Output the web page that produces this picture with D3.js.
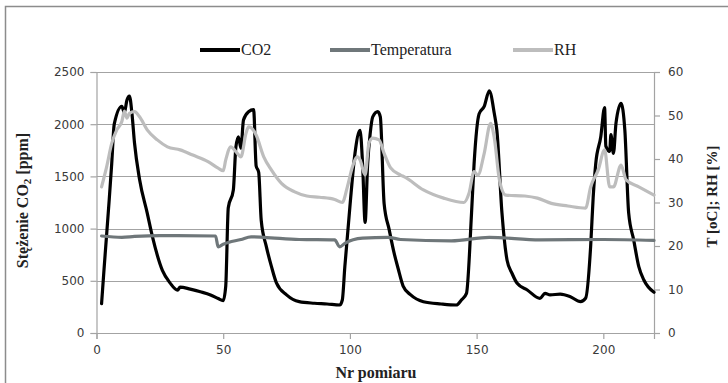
<!DOCTYPE html>
<html><head><meta charset="utf-8">
<script src="https://cdn.jsdelivr.net/npm/d3@7"></script>
<style>body{margin:0;background:#fff}svg{display:block}</style>
</head><body>
<script>
// Data
const co2X = [2,3,5,6,7,10,11,12,13,14,15,17,20,22,26,29,32,33,37,41,45,48,50,51,52,54,55,56,57,58,60,62,63,64,65,67,69,71,75,80,86,91,96,97,98,100,102,104,105,106,107,108,109,111,112,113.5,115.5,117.5,119,121,124,129,136,142,144,146,148,149,151,153,155,157,158,160,162,164,166,170,175,177,179,183,187,191,193,195,196,197,199,200.5,201,202.5,203,204,205,207,208.5,210,212,214,216,220];
const co2V = [280,620,1270,1620,2000,2170,2110,2230,2270,2100,1820,1470,1150,930,600,480,410,440,420,395,365,330,310,450,1200,1370,1780,1880,1770,2040,2120,2140,1600,1540,1080,830,640,480,365,300,285,278,268,316,635,1210,1720,1940,1620,1060,1620,1910,2070,2120,2070,1240,990,760,620,450,365,300,278,268,316,380,1150,1620,2100,2170,2320,2100,1940,1150,700,570,476,412,332,380,365,373,348,300,332,830,1300,1620,1880,2160,1790,1740,1900,1720,2010,2200,1940,1150,890,635,508,390];
const tempX = [2,10,15,25,47,48,50,57,61,66,80,94,96,98,105,115,120,140,155,175,200,220];
const tempV = [22.3,22.0,22.2,22.4,22.3,19.8,20.4,21.5,22.1,22.0,21.5,21.4,19.8,20.6,21.8,22.0,21.5,21.2,22.0,21.4,21.5,21.3];
const rhX = [2,4,6,8,10,11,12,13,15,17,20,24,28,33,38,44,48,50,51,53,55,57,59,60,61,63,66,69,73,78,83,88,94,97,99,101,103,104,106,107.5,109,111.5,113.5,116,120,121.5,129,137,145,147,149,150.5,153,155.5,157,159,161.5,169,174,179.5,186,193,195,198,200.5,202.5,204,207,209,214,220];
const rhV = [33.6,38.2,43.6,46.7,48.6,51,49.4,50.5,50.9,49.7,46.7,44.4,42.8,42.1,40.9,39.4,37.9,37.3,39.8,42.8,41.7,40.5,45.9,47.4,47.2,45.5,40.5,37.5,34.4,32.5,31.5,31.2,30.7,30.0,33.6,38.2,40.5,39.8,36.3,43.6,44.8,44.4,41.3,38.0,36.3,35.9,32.9,31.0,30.0,32.1,37.1,36.3,41.3,48.2,44.8,35.2,31.7,31.5,31.0,29.8,29.2,28.7,33.6,37.5,42.1,33.6,33.6,38.6,35.2,33.6,31.7];
const xTicks = [0,50,100,150,200];
const leftTicks = [0,500,1000,1500,2000,2500];
const rightTicks = [0,10,20,30,40,50,60];
const seriesNames = ["CO2","Temperatura","RH"];
const seriesColors = ["#000000","#6f777a","#bdbdbd"];

const W = 728, H = 383;
const m = {l:96.5, r:654, t:72, b:333};
const svg = d3.select("body").append("svg").attr("width",W).attr("height",H);

// outer chart border
svg.append("rect").attr("x",5.5).attr("y",6.5).attr("width",740).attr("height",400)
  .attr("fill","none").attr("stroke","#8c8c8c").attr("stroke-width",1.5);

const x = d3.scaleLinear().domain([0,220]).range([m.l,m.r]);
const yL = d3.scaleLinear().domain([0,2500]).range([m.b,m.t]);
const yR = d3.scaleLinear().domain([0,60]).range([m.b,m.t]);

const tickFont = "'DejaVu Sans', Verdana, sans-serif";
const axisCol = "#a3a3a3";

// gridlines
svg.append("g").selectAll("line").data(leftTicks.filter(d=>d>0)).join("line")
  .attr("x1",m.l).attr("x2",m.r).attr("y1",d=>Math.round(yL(d))+0.5).attr("y2",d=>Math.round(yL(d))+0.5)
  .attr("stroke",axisCol).attr("stroke-width",1);

// axes
const fmt = d3.format("d");
const gL = svg.append("g").attr("transform",`translate(${m.l},0)`)
  .call(d3.axisLeft(yL).tickValues(leftTicks).tickFormat(fmt).tickSize(6).tickPadding(6));
const gR = svg.append("g").attr("transform",`translate(${m.r},0)`)
  .call(d3.axisRight(yR).tickValues(rightTicks).tickFormat(fmt).tickSize(6).tickPadding(8));
const gB = svg.append("g").attr("transform",`translate(0,${m.b})`)
  .call(d3.axisBottom(x).tickValues(xTicks).tickFormat(fmt).tickSize(6).tickPadding(6));
[gL,gR,gB].forEach(g=>{
  g.selectAll("path,line").attr("stroke",axisCol).attr("stroke-width",1.2);
  g.selectAll("text").attr("font-family",tickFont).attr("font-size",12).attr("fill","#3a3a3a");
});

// series
function draw(xs, vs, ys, color){
  const pts = xs.map((d,i)=>[d,vs[i]]);
  svg.append("path").datum(pts)
    .attr("d", d3.line().curve(d3.curveMonotoneX).x(d=>x(d[0])).y(d=>ys(d[1])))
    .attr("fill","none").attr("stroke",color).attr("stroke-width",3.2)
    .attr("stroke-linejoin","round").attr("stroke-linecap","round");
}
draw(co2X, co2V, yL, seriesColors[0]);
draw(tempX, tempV, yR, seriesColors[1]);
draw(rhX, rhV, yR, seriesColors[2]);

// axis titles
const serif = "'Liberation Serif','Times New Roman',serif";
const lt = svg.append("text").attr("transform",`translate(28,${(m.t+m.b)/2 - 2}) rotate(-90)`)
  .attr("text-anchor","middle").attr("font-family",serif).attr("font-size",16).attr("font-weight","bold").attr("fill","#222");
lt.append("tspan").text("Stężenie CO");
lt.append("tspan").attr("font-size",11).attr("dy",3).text("2");
lt.append("tspan").attr("dy",-3).text(" [ppm]");
svg.append("text").attr("transform",`translate(717,${(m.t+m.b)/2 - 6}) rotate(-90)`)
  .attr("text-anchor","middle").attr("font-family",serif).attr("font-size",15).attr("font-weight","bold").attr("fill","#222")
  .text("T [oC]; RH [%]");
svg.append("text").attr("x",376).attr("y",378).attr("text-anchor","middle")
  .attr("font-family",serif).attr("font-size",16).attr("font-weight","bold").attr("fill","#222").text("Nr pomiaru");

// legend
const legX = [200,330,513];
const leg = svg.append("g");
seriesNames.forEach((n,i)=>{
  leg.append("line").attr("x1",legX[i]).attr("x2",legX[i]+40).attr("y1",50).attr("y2",50)
    .attr("stroke",seriesColors[i]).attr("stroke-width",4);
  leg.append("text").attr("x",legX[i]+41).attr("y",55).attr("font-family",serif).attr("font-size",16)
    .attr("fill","#222").text(n);
});
</script>
</body></html>
